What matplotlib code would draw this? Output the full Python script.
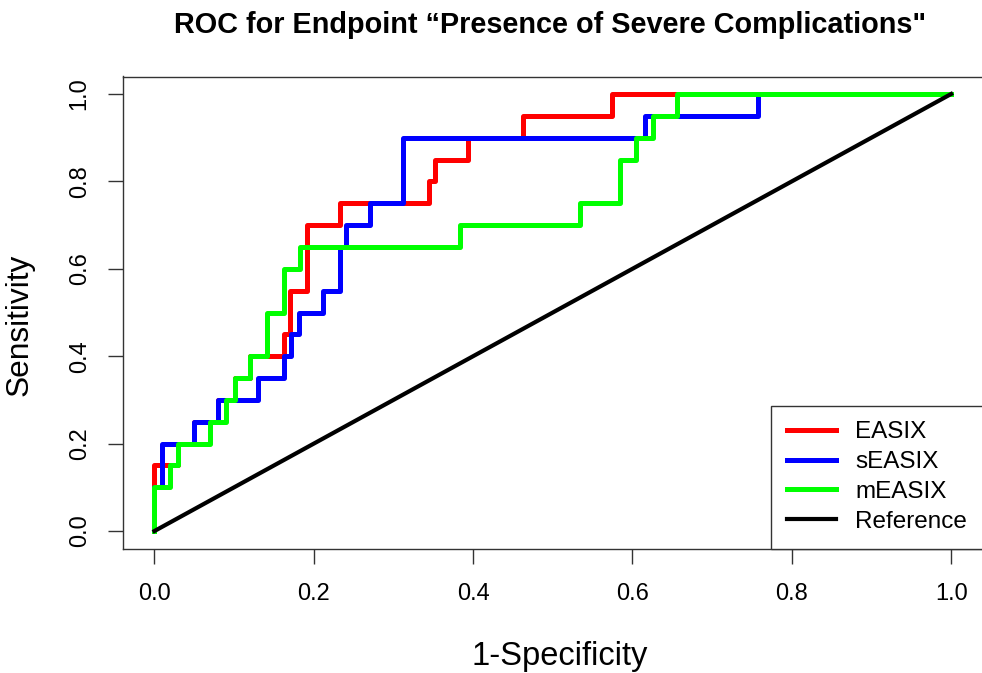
import matplotlib
matplotlib.use("Agg")
import matplotlib.pyplot as plt

plt.rcParams['font.family'] = ['Liberation Sans', 'DejaVu Sans']

# ROC corner points: 1-specificity where sensitivity steps up, and the new sensitivity
easix_fpr = [0, 0, 0.030, 0.049, 0.080, 0.101, 0.120, 0.1626, 0.170, 0.191, 0.233, 0.344, 0.352, 0.394, 0.463, 0.574, 1]
easix_tpr = [0, 0.15, 0.20, 0.25, 0.30, 0.35, 0.40, 0.45, 0.55, 0.70, 0.75, 0.80, 0.85, 0.90, 0.95, 1.0, 1.0]

seasix_fpr = [0, 0, 0.0098, 0.049, 0.080, 0.130, 0.162, 0.172, 0.181, 0.212, 0.233, 0.241, 0.271, 0.312, 0.616, 0.758, 1]
seasix_tpr = [0, 0.10, 0.20, 0.25, 0.30, 0.35, 0.40, 0.45, 0.50, 0.55, 0.65, 0.70, 0.75, 0.90, 0.95, 1.0, 1.0]

measix_fpr = [0, 0, 0.0195, 0.030, 0.070, 0.090, 0.101, 0.120, 0.141, 0.162, 0.183, 0.384, 0.534, 0.584, 0.605, 0.626, 0.656, 1]
measix_tpr = [0, 0.10, 0.15, 0.20, 0.25, 0.30, 0.35, 0.40, 0.50, 0.60, 0.65, 0.70, 0.75, 0.85, 0.90, 0.95, 1.0, 1.0]

ref_x = [0, 1]
ref_y = [0, 1]

ticks = [0.0, 0.2, 0.4, 0.6, 0.8, 1.0]
tick_labels = ["0.0", "0.2", "0.4", "0.6", "0.8", "1.0"]

fig = plt.figure(figsize=(9.82, 6.73), dpi=100)
ax = fig.add_axes([122.6 / 982, 1 - 548.5 / 673, 860.4 / 982, 472 / 673])

lw = 3.6
ax.plot(easix_fpr, easix_tpr, drawstyle='steps-post', color='#ff0000', lw=lw, label='EASIX')
ax.plot(seasix_fpr, seasix_tpr, drawstyle='steps-post', color='#0000ff', lw=lw, label='sEASIX')
ax.plot(measix_fpr, measix_tpr, drawstyle='steps-post', color='#00ff00', lw=lw, label='mEASIX')
ax.plot(ref_x, ref_y, color='black', lw=3.0, label='Reference')

ax.set_xlim(-0.04, 1.04)
ax.set_ylim(-0.04, 1.04)
ax.set_xticks(ticks)
ax.set_xticklabels(tick_labels)
ax.set_yticks(ticks)
ax.set_yticklabels(tick_labels, rotation=90, va='center')
ax.tick_params(length=11, width=1, color='#333333', labelsize=17, pad=14)
ax.tick_params(axis='y', pad=12)
for s in ax.spines.values():
    s.set_color('#333333')
    s.set_linewidth(1.0)

leg = ax.legend(loc='lower right', bbox_to_anchor=(1, 0), borderaxespad=0,
                fontsize=17.5, handlelength=2.0, handletextpad=0.8,
                labelspacing=0.32, borderpad=0.65, fancybox=False,
                framealpha=1, edgecolor='#333333')
leg.get_frame().set_linewidth(1.0)

fig.text(550 / 982, 1 - 25 / 673, 'ROC for Endpoint \u201cPresence of Severe Complications"',
         ha='center', va='center', fontsize=20.8, fontweight='bold')
fig.text(560 / 982, 1 - 657 / 673, '1-Specificity', ha='center', va='center', fontsize=23.5)
fig.text(20 / 982, 1 - 325 / 673, 'Sensitivity', ha='center', va='center', fontsize=22.8, rotation=90)

fig.savefig('out.png', dpi=100)
